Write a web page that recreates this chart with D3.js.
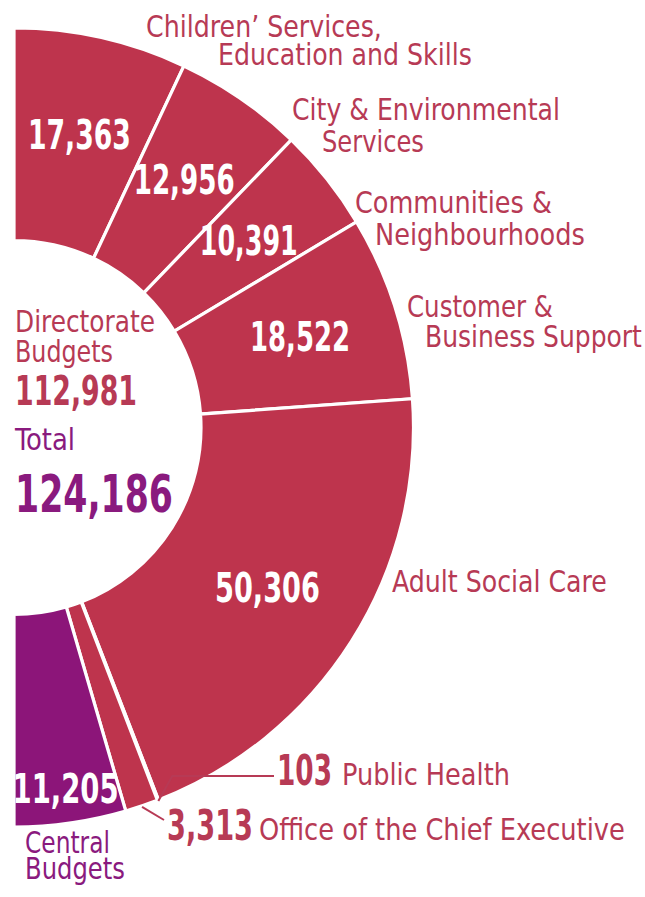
<!DOCTYPE html>
<html>
<head>
<meta charset="utf-8">
<script src="https://cdn.jsdelivr.net/npm/d3@7"></script>
<style>
  html, body { margin: 0; padding: 0; background: #fff; }
  svg { display: block; }
  text { font-family: "DejaVu Sans Condensed", "DejaVu Sans", sans-serif; }
</style>
</head>
<body>
<svg id="chart" width="645" height="897"></svg>
<script>
// ---- data ----
const categories = [
  "Children’ Services, Education and Skills",
  "City & Environmental Services",
  "Communities & Neighbourhoods",
  "Customer & Business Support",
  "Adult Social Care",
  "Public Health",
  "Office of the Chief Executive",
  "Central Budgets"
];
const values = [17363, 12956, 10391, 18522, 50306, 103, 3313, 11205];
const groups = ["Directorate", "Directorate", "Directorate", "Directorate",
                "Directorate", "Directorate", "Directorate", "Central"];
const directorateTotal = 112981;
const grandTotal = 124186;

// ---- drawing ----
const svg = d3.select("#chart");
const cx = 14, cy = 427.5;
const rIn = 187, rOut = 399.5;

const RED = "#be344d", PURPLE = "#8c1579";
const TXT_RED = "#b73a55", TXT_PURPLE = "#8a1a7e";
const color = d3.scaleOrdinal().domain(["Directorate", "Central"]).range([RED, PURPLE]);
const fmt = d3.format(",");

const rows = categories.map((c, i) => ({ name: c, value: values[i], group: groups[i] }));

const pie = d3.pie().sort(null).startAngle(0).endAngle(Math.PI).value(d => d.value);
const arcs = pie(rows);
const arc = d3.arc().innerRadius(rIn).outerRadius(rOut);

const g = svg.append("g").attr("transform", `translate(${cx},${cy})`);
g.selectAll("path.slice")
  .data(arcs)
  .join("path")
  .attr("class", "slice")
  .attr("d", arc)
  .attr("fill", d => color(d.data.group))
  .attr("stroke", "#fff")
  .attr("stroke-width", 3.2)
  .attr("stroke-linejoin", "miter");

// helper: text condensed horizontally to a target width
function txt(s, x, y, size, fill, weight, len, anchor) {
  const wrap = svg.append("g");
  const t = wrap.append("text")
    .attr("x", 0).attr("y", 0)
    .attr("font-size", size)
    .attr("font-weight", weight || "normal")
    .attr("fill", fill)
    .attr("text-anchor", anchor || "start")
    .text(s);
  const natural = t.node().getComputedTextLength();
  const sx = len && natural > 0 ? len / natural : 1;
  wrap.attr("transform", `translate(${x},${y}) scale(${sx},1)`);
  return t;
}

// value labels inside slices (at arc centroids)
const bigSlices = new Set(["Children’ Services, Education and Skills", "City & Environmental Services",
  "Communities & Neighbourhoods", "Customer & Business Support", "Adult Social Care", "Central Budgets"]);
const valueLen = { 17363: 103, 12956: 101, 10391: 98, 18522: 100, 50306: 105, 11205: 106 };
arcs.filter(d => bigSlices.has(d.data.name)).forEach(d => {
  const r = d.data.group === "Central" ? 365 : 300;
  const a = (d.startAngle + d.endAngle) / 2;
  const x = cx + r * Math.sin(a), y = cy - r * Math.cos(a);
  txt(fmt(d.data.value), x, y + 14, 40, "#fff", "bold", valueLen[d.data.value], "middle");
});

// outer category labels
const outer = [
  { lines: ["Children’ Services,", "Education and Skills"], pos: [[146, 37, 236], [218, 65, 254]] },
  { lines: ["City & Environmental", "Services"], pos: [[292, 120, 268], [322, 152, 102]] },
  { lines: ["Communities &", "Neighbourhoods"], pos: [[355, 213, 197], [375, 245, 210]] },
  { lines: ["Customer &", "Business Support"], pos: [[407, 317, 146], [425, 347, 217]] },
  { lines: ["Adult Social Care"], pos: [[392, 592, 215]] }
];
outer.forEach(o => o.lines.forEach((l, j) => {
  const p = o.pos[j];
  txt(l, p[0], p[1], 31, TXT_RED, "normal", p[2]);
}));

// small slices with leader lines
const ph = arcs[5], oce = arcs[6];
function outerPt(d, r) {
  const a = (d.startAngle + d.endAngle) / 2;
  return [cx + r * Math.sin(a), cy - r * Math.cos(a)];
}
const p1 = outerPt(ph, rOut + 1);
svg.append("path")
  .attr("d", d3.line()([p1, [p1[0] + 14, 776], [274, 776]]))
  .attr("fill", "none").attr("stroke", TXT_RED).attr("stroke-width", 2);
txt(fmt(ph.data.value), 277, 785, 42, TXT_RED, "bold", 55);
txt("Public Health", 342, 785, 31, TXT_RED, "normal", 168);

const p2 = outerPt(oce, rOut + 1);
svg.append("path")
  .attr("d", d3.line()([p2, [164, 820]]))
  .attr("fill", "none").attr("stroke", TXT_RED).attr("stroke-width", 2);
txt(fmt(oce.data.value), 167, 840, 42, TXT_RED, "bold", 86);
txt("Office of the Chief Executive", 259, 840, 31, TXT_RED, "normal", 366);

// central budgets label
txt("Central", 25, 853, 31, TXT_PURPLE, "normal", 85);
txt("Budgets", 25, 879, 31, TXT_PURPLE, "normal", 100);

// centre summary
txt("Directorate", 15, 332, 30, TXT_RED, "normal", 140);
txt("Budgets", 15, 362, 30, TXT_RED, "normal", 98);
txt(fmt(directorateTotal), 15, 405, 40, TXT_RED, "bold", 122);
txt("Total", 15, 450, 30, TXT_PURPLE, "normal", 60);
txt(fmt(grandTotal), 15, 512, 52, TXT_PURPLE, "bold", 158);
</script>
</body>
</html>
